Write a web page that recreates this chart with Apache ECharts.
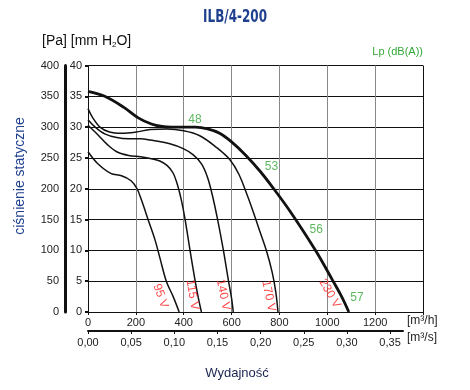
<!DOCTYPE html>
<html><head><meta charset="utf-8">
<script src="https://cdn.jsdelivr.net/npm/echarts@6/dist/echarts.min.js"></script>
<style>html,body{margin:0;padding:0;background:#fff}#c{width:470px;height:390px}</style>
</head><body><div id="c"></div>
<script>
// ---- data ----
const chartTitle = 'ILB/4-200';
const flowTicksM3s = [0, 0.05, 0.10, 0.15, 0.20, 0.25, 0.30, 0.35];

const q230 = [0, 70, 150, 210, 265, 310, 350, 400, 450, 500, 550, 600, 660, 720, 780, 840, 900, 960, 1020, 1060, 1090];
const p230 = [358, 350, 332, 315, 305, 301, 300, 300, 300, 297, 290, 276, 254, 228, 198, 166, 131, 94, 53, 25, 0];

const q170 = [0, 20, 50, 90, 140, 200, 260, 330, 400, 467, 537, 593, 630, 662, 690, 718, 746, 770, 785, 794];
const p170 = [330, 315, 300, 292, 290, 292, 296, 297, 294, 286, 267, 247, 224, 193, 163, 131, 99, 64, 32, 0];

const q140 = [0, 30, 70, 120, 170, 220, 260, 342, 398, 440, 475, 500, 520, 540, 565, 586, 600, 607];
const p140 = [312, 300, 289, 283, 281, 281, 279, 273, 265, 255, 240, 218, 189, 153, 102, 53, 22, 0];

const q115 = [0, 40, 80, 120, 170, 220, 260, 300, 330, 355, 375, 391, 405, 426, 447, 460, 474];
const p115 = [303, 288, 272, 260, 254, 252, 249, 245, 238, 226, 205, 180, 152, 101, 52, 25, 0];

const q95 = [0, 40, 95, 140, 180, 205, 225, 252, 280, 301, 328, 356, 381];
const p95 = [260, 241, 225, 221, 213, 200, 180, 149, 117, 87, 49, 25, 0];

const voltLabels = ['95 V', '115 V', '140 V', '170 V', '230 V'];
const voltLabelQ = [303, 436, 565, 755, 1010];
const voltLabelP = [26, 28, 28, 26, 30];
const voltLabelRot = [-70, -80, -78, -78, -60];

const lpLabels = ['48', '53', '56', '57'];
const lpQ = [447, 767, 954, 1124];
const lpP = [312, 236, 134, 23];

// ---- chart ----
const zip = (a, b) => a.map((v, i) => [v, b[i]]);
const FONT = '"Liberation Sans", Arial, sans-serif';
const chart = echarts.init(document.getElementById('c'), null, {renderer: 'canvas'});

function curve(q, p, w) {
  return {type: 'line', xAxisIndex: 0, yAxisIndex: 1, data: zip(q, p), smooth: 0.35,
    symbol: 'none', lineStyle: {color: '#111', width: w}, silent: true, z: 5};
}

const vCols = ['#888','#888','#888','#888','#888','#888','#888','#111'];

chart.setOption({
  animation: false,
  backgroundColor: '#fff',
  grid: [
    {left: 88, right: 47, top: 65.5, bottom: 78},
    {left: 88, right: 67, top: 65.5, bottom: 78}
  ],
  xAxis: [
    {type: 'value', gridIndex: 0, min: 0, max: 1400, interval: 200, position: 'bottom',
      axisLine: {show: true, lineStyle: {color: '#111', width: 1}},
      axisTick: {show: true, length: 3, lineStyle: {color: '#111'}},
      axisLabel: {fontSize: 11, color: '#222', fontFamily: FONT, margin: 5,
        formatter: v => v === 1400 ? '' : String(v)},
      splitLine: {show: true, lineStyle: {color: vCols, width: 1}}},
    {type: 'value', gridIndex: 1, min: 0, max: 0.365, position: 'bottom', offset: 19,
      axisLine: {show: true, onZero: false, lineStyle: {color: '#111', width: 2}},
      axisTick: {show: true, length: 3, customValues: flowTicksM3s, lineStyle: {color: '#111'}},
      axisLabel: {fontSize: 11, color: '#222', fontFamily: FONT, margin: 6, customValues: flowTicksM3s,
        formatter: v => v.toFixed(2).replace('.', ',')},
      splitLine: {show: false}}
  ],
  yAxis: [
    {type: 'value', gridIndex: 0, min: 0, max: 40, interval: 5, position: 'left',
      axisLine: {show: true, lineStyle: {color: '#111', width: 1}},
      axisTick: {show: true, length: 3, lineStyle: {color: '#111', width: 2}},
      axisLabel: {fontSize: 11, color: '#222', fontFamily: FONT, margin: 6},
      splitLine: {show: true, lineStyle: {color: '#111', width: 1}}},
    {type: 'value', gridIndex: 0, min: 0, max: 400, interval: 50, position: 'left', offset: 23,
      axisLine: {show: true, lineStyle: {color: '#111', width: 3}},
      axisTick: {show: false},
      axisLabel: {fontSize: 11, color: '#222', fontFamily: FONT, margin: 6},
      splitLine: {show: false}},
    {type: 'value', gridIndex: 1, min: 0, max: 400, show: false}
  ],
  series: [
    curve(q95, p95, 1.5),
    curve(q115, p115, 1.5),
    curve(q140, p140, 1.5),
    curve(q170, p170, 1.5),
    curve(q230, p230, 2.8),
    {type: 'scatter', xAxisIndex: 0, yAxisIndex: 1, symbolSize: 0, silent: true, z: 6,
      data: voltLabels.map((t, i) => ({value: [voltLabelQ[i], voltLabelP[i]], name: t,
        label: {rotate: voltLabelRot[i]}})),
      label: {show: true, position: 'inside', formatter: p => p.name, color: '#ff1a1a',
        fontSize: 12, fontFamily: FONT}},
    {type: 'scatter', xAxisIndex: 0, yAxisIndex: 1, symbolSize: 0, silent: true, z: 6,
      data: lpLabels.map((t, i) => ({value: [lpQ[i], lpP[i]], name: t})),
      label: {show: true, position: 'inside', formatter: p => p.name, color: '#35a83a',
        fontSize: 12, fontFamily: FONT}}
  ],
  graphic: [
    {type: 'text', x: 235, y: 17, scaleX: 0.74, originX: 0, originY: 0,
      style: {text: chartTitle, fontSize: 18, fontWeight: 'bold', fill: '#1f3f8f',
        fontFamily: '"DejaVu Sans Condensed", "DejaVu Sans", sans-serif',
        align: 'center', verticalAlign: 'middle'}},
    {type: 'text', left: 42, top: 34, style: {text: '[Pa] [mm H{s|2}O]', fontSize: 14,
      fontFamily: FONT, fill: '#111', rich: {s: {fontSize: 8, verticalAlign: 'bottom', padding: [8, 0, 0, 0], fontFamily: FONT, fill: '#111'}}}},
    {type: 'text', right: 47, top: 46, style: {text: 'Lp (dB(A))', fontSize: 11, fontFamily: FONT, fill: '#35a83a'}},
    {type: 'text', left: 407, top: 315, style: {text: '[m³/h]', fontSize: 12, fontFamily: FONT, fill: '#222'}},
    {type: 'text', left: 407, top: 332, style: {text: '[m³/s]', fontSize: 12, fontFamily: FONT, fill: '#222'}},
    {type: 'text', x: 20, y: 176, rotation: Math.PI / 2,
      style: {text: 'ciśnienie statyczne', fontSize: 14, fontFamily: FONT, fill: '#1f3f8f',
        align: 'center', verticalAlign: 'middle'}},
    {type: 'text', x: 237, y: 373, style: {text: 'Wydajność', fontSize: 13, fontFamily: FONT,
      fill: '#1a2550', align: 'center', verticalAlign: 'middle'}}
  ]
});
</script>
</body></html>
